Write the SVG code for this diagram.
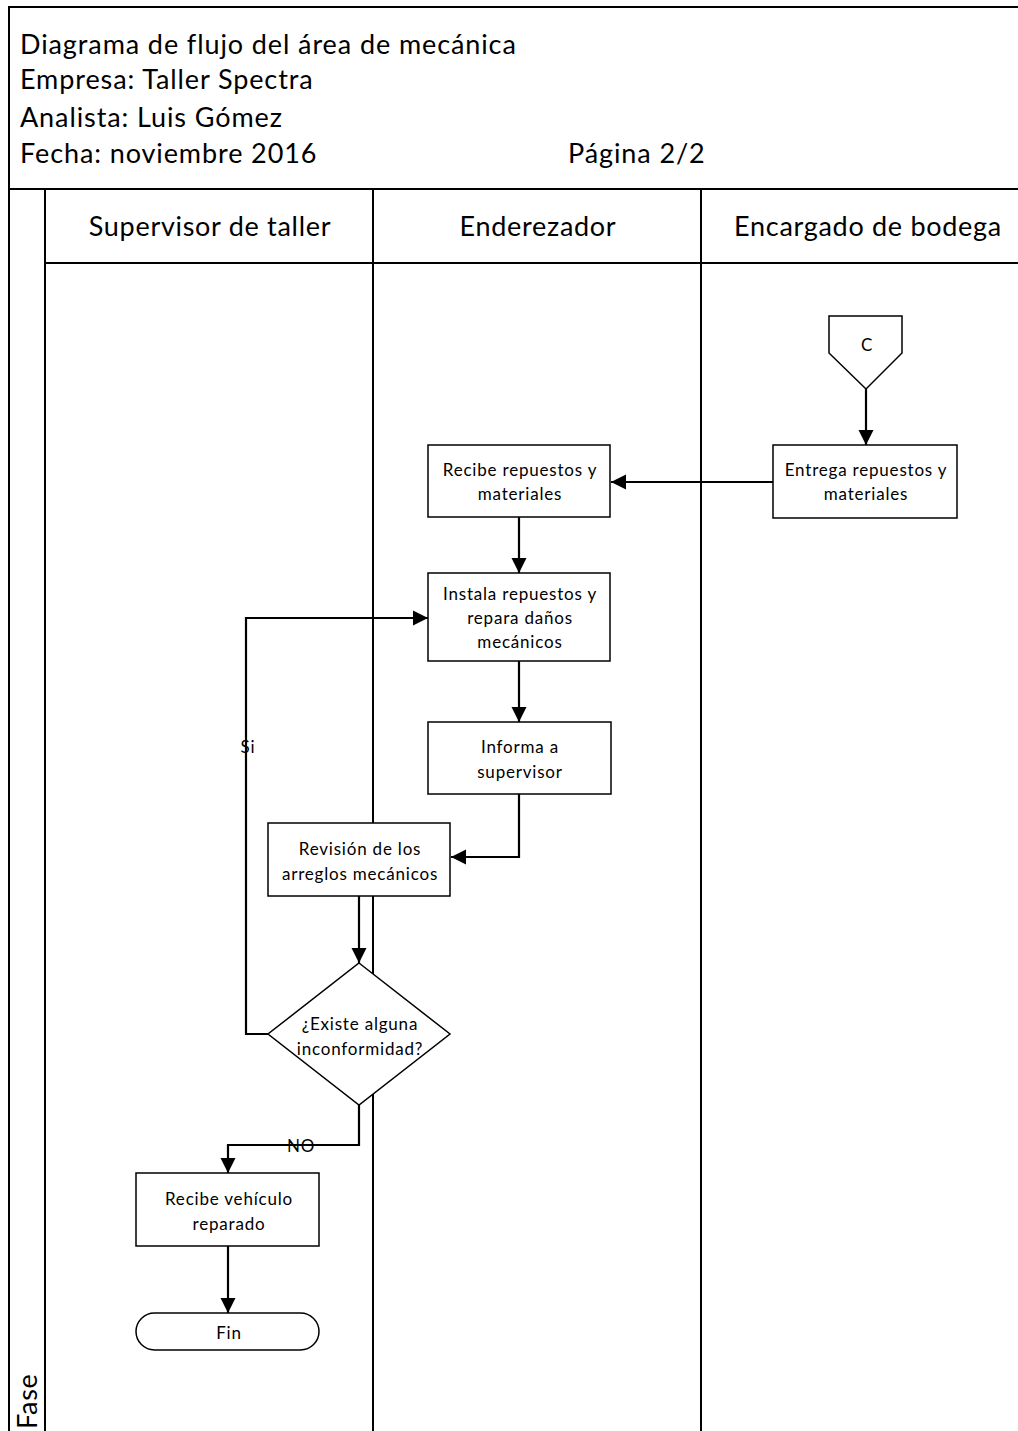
<svg xmlns="http://www.w3.org/2000/svg" width="1018" height="1431" viewBox="0 0 1018 1431">
  <style>
    .frame { fill: none; stroke: #000; stroke-width: 2; }
    .box { fill: #fff; stroke: #000; stroke-width: 1.5; }
    .wire { fill: none; stroke: #000; stroke-width: 2.2; }
    .head { font-family: Lato, "Liberation Sans", sans-serif; font-size: 27px; letter-spacing: 0.9px; fill: #000; }
    .lane { font-family: Lato, "Liberation Sans", sans-serif; font-size: 27px; letter-spacing: 0.7px; fill: #000; text-anchor: middle; }
    .lbl { font-family: Lato, "Liberation Sans", sans-serif; font-size: 17px; letter-spacing: 0.8px; fill: #000; text-anchor: middle; }
  </style>
  <defs>
    <marker id="arrow" markerUnits="userSpaceOnUse" markerWidth="16" markerHeight="16" viewBox="0 0 16 16" refX="15" refY="8" orient="auto">
      <path d="M0,0.5 L15,8 L0,15.5 Z" fill="#000"/>
    </marker>
  </defs>

  <rect width="1018" height="1431" fill="#fff"/>

  <!-- page frame and swimlanes -->
  <g id="frame">
    <path class="frame" d="M9,1431 V7 H1018"/>
    <path class="frame" d="M9,189 H1018"/>
    <path class="frame" d="M45,189 V1431"/>
    <path class="frame" d="M45,263 H1018"/>
    <path class="frame" d="M373,189 V1431"/>
    <path class="frame" d="M701,189 V1431"/>
  </g>

  <!-- title block -->
  <g id="title">
    <text class="head" x="20" y="54">Diagrama de flujo del área de mecánica</text>
    <text class="head" x="20" y="89">Empresa: Taller Spectra</text>
    <text class="head" x="20" y="127">Analista: Luis Gómez</text>
    <text class="head" x="20" y="163">Fecha: noviembre 2016</text>
    <text class="head" x="568" y="163">Página 2/2</text>
  </g>

  <g id="lane-headers">
    <text class="lane" x="210" y="236">Supervisor de taller</text>
    <text class="lane" x="538" y="236">Enderezador</text>
    <text class="lane" x="868" y="236">Encargado de bodega</text>
    <text class="lane" transform="translate(37,1429) rotate(-90)" style="text-anchor:start">Fase</text>
  </g>

  <!-- connectors -->
  <g id="connectors">
    <path class="wire" d="M866,389 V445" marker-end="url(#arrow)"/>
    <path class="wire" d="M773,482 H611" marker-end="url(#arrow)"/>
    <path class="wire" d="M519,517 V573" marker-end="url(#arrow)"/>
    <path class="wire" d="M519,661 V722" marker-end="url(#arrow)"/>
    <path class="wire" d="M519,794 V857 H451" marker-end="url(#arrow)"/>
    <path class="wire" d="M359,896 V963" marker-end="url(#arrow)"/>
    <path class="wire" d="M268,1034 H246 V618 H428" marker-end="url(#arrow)"/>
    <path class="wire" d="M359,1105 V1145 H228 V1173" marker-end="url(#arrow)"/>
    <path class="wire" d="M228,1246 V1313" marker-end="url(#arrow)"/>
    <text class="lbl" x="248" y="753">Si</text>
    <text class="lbl" x="301" y="1152">NO</text>
  </g>

  <!-- off-page connector C -->
  <g id="node-c">
    <path class="box" d="M829,316 H902 V353 L866,389 L829,353 Z"/>
    <text class="lbl" x="867" y="351">C</text>
  </g>

  <g id="node-entrega">
    <rect class="box" x="773" y="445" width="184" height="73"/>
    <text class="lbl" x="866" y="476">Entrega repuestos y</text>
    <text class="lbl" x="866" y="500">materiales</text>
  </g>

  <g id="node-recibe">
    <rect class="box" x="428" y="445" width="182" height="72"/>
    <text class="lbl" x="520" y="476">Recibe repuestos y</text>
    <text class="lbl" x="520" y="500">materiales</text>
  </g>

  <g id="node-instala">
    <rect class="box" x="428" y="573" width="182" height="88"/>
    <text class="lbl" x="520" y="600">Instala repuestos y</text>
    <text class="lbl" x="520" y="624">repara daños</text>
    <text class="lbl" x="520" y="648">mecánicos</text>
  </g>

  <g id="node-informa">
    <rect class="box" x="428" y="722" width="183" height="72"/>
    <text class="lbl" x="520" y="753">Informa a</text>
    <text class="lbl" x="520" y="778">supervisor</text>
  </g>

  <g id="node-revision">
    <rect class="box" x="268" y="823" width="182" height="73"/>
    <text class="lbl" x="360" y="855">Revisión de los</text>
    <text class="lbl" x="360" y="880">arreglos mecánicos</text>
  </g>

  <g id="node-decision">
    <path class="box" d="M359,963 L450,1034 L359,1105 L268,1034 Z"/>
    <text class="lbl" x="360" y="1030">¿Existe alguna</text>
    <text class="lbl" x="360" y="1055">inconformidad?</text>
  </g>

  <g id="node-vehiculo">
    <rect class="box" x="136" y="1173" width="183" height="73"/>
    <text class="lbl" x="229" y="1205">Recibe vehículo</text>
    <text class="lbl" x="229" y="1230">reparado</text>
  </g>

  <g id="node-fin">
    <rect class="box" x="136" y="1313" width="183" height="37" rx="18.5" ry="18.5"/>
    <text class="lbl" x="229" y="1339">Fin</text>
  </g>
</svg>
